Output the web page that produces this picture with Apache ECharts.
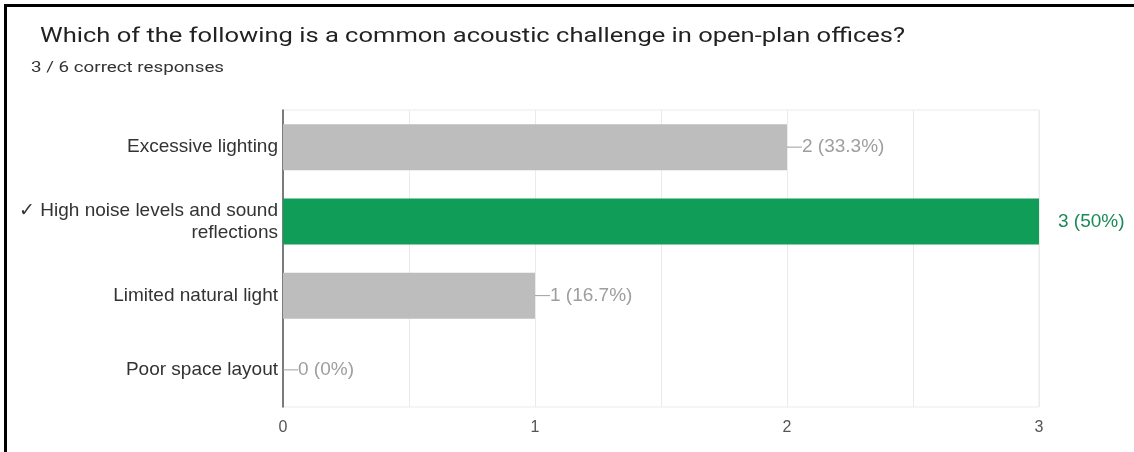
<!DOCTYPE html>
<html><head><meta charset="utf-8">
<script src="https://cdn.jsdelivr.net/npm/echarts@6/dist/echarts.min.js"></script>
<style>html,body{margin:0;padding:0;background:#fff}#c{width:1134px;height:452px}</style>
</head><body><div id="c"></div>
<script>
const titleText = 'Which of the following is a common acoustic challenge in open-plan offices?';
const subtitleText = '3 / 6 correct responses';
const categories = ['Excessive lighting', '\u2713 High noise levels and sound\nreflections', 'Limited natural light', 'Poor space layout'];
const counts = [2, 3, 1, 0];
const percentLabels = ['33.3%', '50%', '16.7%', '0%'];
const correctIndex = 1;
const xTicks = [0, 1, 2, 3];

const FONT = '"Liberation Sans", Arial, sans-serif';
const chart = echarts.init(document.getElementById('c'));
const data = counts.map((v, i) => ({
  value: v,
  itemStyle: { color: i === correctIndex ? '#0f9d58' : '#bdbdbd' },
  label: i === correctIndex ? {
    formatter: v + ' (' + percentLabels[i] + ')',
    color: '#1a8a58', distance: 19
  } : {
    formatter: '{l|}' + v + ' (' + percentLabels[i] + ')',
    color: '#9e9e9e', distance: 0
  }
}));
chart.setOption({
  animation: false,
  textStyle: { fontFamily: FONT },
  graphic: [
    { type: 'rect', shape: { x: 4, y: 4, width: 1130, height: 3 }, style: { fill: '#000' } },
    { type: 'rect', shape: { x: 4, y: 4, width: 3, height: 448 }, style: { fill: '#000' } },
    { type: 'text', x: 40, y: 27, scaleX: 1.276, style: { text: titleText, font: '20px Roboto, Arial, sans-serif', fill: '#222' } },
    { type: 'text', x: 31, y: 61, scaleX: 1.25, style: { text: subtitleText, font: '15px Roboto, Arial, sans-serif', fill: '#333' } }
  ],
  grid: { left: 283, right: 95, top: 110, bottom: 45, containLabel: false, show: true, borderColor: '#ebebeb', borderWidth: 1 },
  xAxis: {
    type: 'value', min: 0, max: 3, interval: 0.5,
    axisLine: { show: false }, axisTick: { show: false },
    splitLine: { show: true, lineStyle: { color: '#ebebeb', width: 1 } },
    axisLabel: {
      color: '#555', fontSize: 16, margin: 13,
      formatter: v => (xTicks.indexOf(v) >= 0 ? String(v) : '')
    }
  },
  yAxis: {
    type: 'category', data: categories, inverse: true,
    axisLine: { show: true, lineStyle: { color: '#555', width: 1.5 } },
    axisTick: { show: false },
    splitLine: { show: false },
    axisLabel: { color: '#333', fontSize: 19, lineHeight: 22, margin: 5, align: 'right' }
  },
  series: [{
    type: 'bar', data: data, barWidth: 46, silent: true,
    label: {
      show: true, position: 'right', fontSize: 19,
      rich: { l: { width: 15, height: 1, backgroundColor: '#9e9e9e' } }
    }
  }]
});
</script></body></html>
